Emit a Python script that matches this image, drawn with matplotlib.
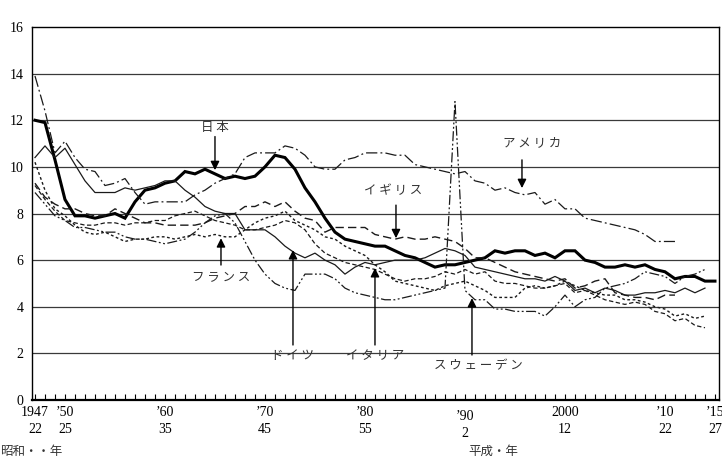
import matplotlib
matplotlib.use("Agg")
import matplotlib.pyplot as plt
import matplotlib.transforms as mtransforms
import numpy as np

plt.rcParams['font.family'] = ['Liberation Serif', 'DejaVu Serif']
JP = ['Noto Sans CJK JP', 'DejaVu Sans']

# --- data: crude marriage rate (per 1,000) ---
japan_years = np.arange(1947, 2016)
japan = [12.0, 11.9, 10.3, 8.6, 7.9, 7.9, 7.8, 7.9, 8.0, 7.8,
         8.5, 9.0, 9.1, 9.3, 9.4, 9.8, 9.7, 9.9, 9.7, 9.5,
         9.6, 9.5, 9.6, 10.0, 10.5, 10.4, 9.9, 9.1, 8.5, 7.8,
         7.2, 6.9, 6.8, 6.7, 6.6, 6.6, 6.4, 6.2, 6.1, 5.9,
         5.7, 5.8, 5.8, 5.9, 6.0, 6.1, 6.4, 6.3, 6.4, 6.4,
         6.2, 6.3, 6.1, 6.4, 6.4, 6.0, 5.9, 5.7, 5.7, 5.8,
         5.7, 5.8, 5.6, 5.5, 5.2, 5.3, 5.3, 5.1, 5.1]

usa_years = np.arange(1947, 2012)
usa = [13.9, 12.4, 10.6, 11.1, 10.4, 9.9, 9.8, 9.2, 9.3, 9.5,
       8.9, 8.4, 8.5, 8.5, 8.5, 8.5, 8.8, 9.0, 9.3, 9.5,
       9.7, 10.4, 10.6, 10.6, 10.6, 10.9, 10.8, 10.5, 10.0, 9.9,
       9.9, 10.3, 10.4, 10.6, 10.6, 10.6, 10.5, 10.5, 10.1, 10.0,
       9.9, 9.8, 9.7, 9.8, 9.4, 9.3, 9.0, 9.1, 8.9, 8.8,
       8.9, 8.4, 8.6, 8.2, 8.2, 7.8, 7.7, 7.6, 7.5, 7.4,
       7.3, 7.1, 6.8, 6.8, 6.8]

uk_years = np.arange(1947, 2012)
uk = [9.3, 8.7, 8.4, 8.2, 8.2, 8.0, 7.9, 7.9, 8.2, 8.0,
      7.8, 7.6, 7.6, 7.5, 7.5, 7.5, 7.5, 7.6, 7.8, 7.9,
      8.0, 8.3, 8.3, 8.5, 8.3, 8.5, 8.1, 7.8, 7.7, 7.2,
      7.4, 7.4, 7.4, 7.4, 7.1, 7.0, 6.9, 7.0, 6.9, 6.9,
      7.0, 6.9, 6.8, 6.5, 6.1, 6.1, 5.9, 5.7, 5.5, 5.4,
      5.3, 5.2, 5.1, 5.2, 4.8, 4.9, 5.1, 5.2, 4.6, 4.5,
      4.4, 4.4, 4.3, 4.5, 4.5]

france_years = np.arange(1947, 2015)
france = [10.2, 9.0, 8.2, 7.9, 7.5, 7.2, 7.1, 7.2, 7.0, 6.8,
          6.9, 6.9, 7.0, 7.0, 6.9, 7.0, 7.1, 7.0, 7.1, 7.0,
          7.0, 7.3, 7.6, 7.8, 7.9, 8.1, 7.7, 7.5, 7.3, 7.0,
          6.9, 6.6, 6.4, 6.2, 5.8, 5.5, 5.1, 5.0, 4.9, 4.8,
          4.7, 4.9, 5.0, 5.1, 4.9, 4.7, 4.4, 4.4, 4.4, 4.8,
          4.9, 4.8, 4.9, 5.1, 4.9, 4.7, 4.6, 4.5, 4.5, 4.3,
          4.3, 4.2, 4.0, 3.9, 3.6, 3.7, 3.5, 3.6]

germany_years = np.arange(1947, 2015)
germany = [10.4, 10.9, 10.4, 10.8, 10.1, 9.4, 8.9, 8.9, 8.9, 9.1,
           9.0, 9.1, 9.2, 9.4, 9.4, 9.0, 8.7, 8.3, 8.1, 8.0,
           8.0, 7.3, 7.3, 7.3, 7.0, 6.6, 6.3, 6.1, 6.3, 6.0,
           5.8, 5.4, 5.7, 5.9, 5.8, 5.9, 6.0, 6.0, 6.0, 6.1,
           6.3, 6.5, 6.4, 6.2, 5.7, 5.6, 5.5, 5.4, 5.3, 5.2,
           5.2, 5.1, 5.3, 5.1, 4.7, 4.8, 4.6, 4.8, 4.7, 4.5,
           4.5, 4.6, 4.6, 4.7, 4.6, 4.8, 4.6, 4.8]

italy_years = np.arange(1947, 2015)
italy = [9.2, 8.6, 8.1, 7.7, 7.6, 7.5, 7.5, 7.6, 7.6, 7.5,
         7.6, 7.6, 7.7, 7.7, 7.9, 8.0, 8.1, 7.9, 7.7, 7.6,
         7.5, 7.3, 7.3, 7.4, 7.5, 7.7, 7.6, 7.3, 6.7, 6.3,
         6.1, 5.9, 5.8, 5.7, 5.6, 5.4, 5.2, 5.1, 5.2, 5.2,
         5.3, 5.5, 5.4, 5.6, 5.4, 5.5, 5.1, 5.0, 5.0, 4.9,
         4.8, 4.8, 4.9, 5.0, 4.6, 4.7, 4.5, 4.3, 4.2, 4.1,
         4.2, 4.1, 3.8, 3.7, 3.4, 3.5, 3.2, 3.1]

sweden_years = np.arange(1947, 2015)
sweden = [8.9, 8.4, 7.9, 7.7, 7.4, 7.4, 7.3, 7.2, 7.2, 7.0,
          6.9, 6.9, 6.8, 6.7, 6.8, 6.9, 7.2, 7.6, 7.9, 8.0,
          7.6, 6.8, 6.0, 5.4, 5.0, 4.8, 4.7, 5.4, 5.4, 5.4,
          5.2, 4.8, 4.6, 4.5, 4.4, 4.3, 4.3, 4.4, 4.5, 4.6,
          4.7, 4.8, 12.8, 4.7, 4.3, 4.3, 3.9, 3.9, 3.8, 3.8,
          3.8, 3.6, 4.0, 4.5, 4.0, 4.3, 4.4, 4.8, 4.9, 5.0,
          5.2, 5.5, 5.4, 5.3, 5.0, 5.3, 5.4, 5.6]

tick_years = [1947, 1950, 1960, 1970, 1980, 1990, 2000, 2010, 2015]
tick_western = ['1947', '\u201950', '\u201960', '\u201970', '\u201980',
                '\u201990', '2000', '\u201910', '\u201915']
tick_era = ['22', '25', '35', '45', '55', '2', '12', '22', '27']

fig = plt.figure(figsize=(7.22, 4.68), dpi=100)
ax = fig.add_axes([0.0443, 0.1453, 0.9515, 0.797])

ink = '#1a1a1a'
ax.plot(japan_years, japan, color='black', lw=2.2, solid_joinstyle='miter')
ax.plot(usa_years, usa, color=ink, lw=0.9, dashes=(9, 2.5, 1.5, 2.5))
ax.plot(uk_years, uk, color=ink, lw=1.0, dashes=(6, 3))
ax.plot(france_years, france, color=ink, lw=1.0, dashes=(2, 1.8))
ax.plot(germany_years, germany, color=ink, lw=0.9)
ax.plot(italy_years, italy, color=ink, lw=0.9, dashes=(3.5, 2))
ax.plot(sweden_years, sweden, color=ink, lw=0.9, dashes=(8, 2, 1.5, 2, 1.5, 2))

ax.set_xlim(1946.7, 2015.4)
ax.set_ylim(0, 16)
ax.set_yticks(range(0, 17, 2))
for yv in range(2, 16, 2):
    ax.axhline(yv, color='#3a3a3a', lw=0.9, zorder=0)

ax.set_xticks(tick_years)
ax.set_xticklabels([f'{a}\n{b}' for a, b in zip(tick_western, tick_era)],
                   linespacing=1.45)
ax.set_xticks(range(1947, 2016), minor=True)
ax.tick_params(axis='x', which='both', direction='in', length=4, width=0.8,
               labelsize=10, pad=4)
ax.tick_params(axis='y', length=0, labelsize=10, pad=6)
for t in ax.get_xticklabels():
    if t.get_text().startswith('\u201990'):
        t.set_transform(t.get_transform() +
                        mtransforms.ScaledTranslation(0, -4 / 100, fig.dpi_scale_trans))

for s in ['left', 'top', 'right']:
    ax.spines[s].set_linewidth(1.0)
ax.spines['bottom'].set_linewidth(1.6)

fig.text(0.0, 0.035, '昭和・・年', family=JP, fontsize=9, color='#333333',
         ha='left', va='center')
fig.text(0.648, 0.035, '平成・年', family=JP, fontsize=9, color='#333333',
         ha='left', va='center')

arrow = dict(arrowstyle='-|>', color='black', lw=1.0, mutation_scale=13,
             shrinkA=0, shrinkB=0)
labels = [
    ('日 本', (1965.0, 11.3), (1965.0, 9.86), (1965.0, 11.68)),
    ('ア メ リ カ', (1995.7, 10.3), (1995.7, 9.09), (1996.7, 11.06)),
    ('イ ギ リ ス', (1983.1, 8.36), (1983.1, 6.94), (1982.8, 9.0)),
    ('フ ラ ン ス', (1965.6, 5.79), (1965.6, 6.94), (1965.6, 5.23)),
    ('ド イ ツ', (1972.8, 2.36), (1972.8, 6.43), (1972.8, 1.89)),
    ('イ タ リ ア', (1981.0, 2.36), (1981.0, 5.66), (1981.0, 1.89)),
    ('ス ウ ェ ー デ ン', (1990.7, 1.93), (1990.7, 4.37), (1991.3, 1.46)),
]
for name, tail, head, pos in labels:
    ax.annotate('', xy=head, xytext=tail, arrowprops=arrow)
    ax.text(pos[0], pos[1], name, family=JP, fontsize=9, color='#333333',
            ha='center', va='center')

fig.savefig('out.png', dpi=100)
